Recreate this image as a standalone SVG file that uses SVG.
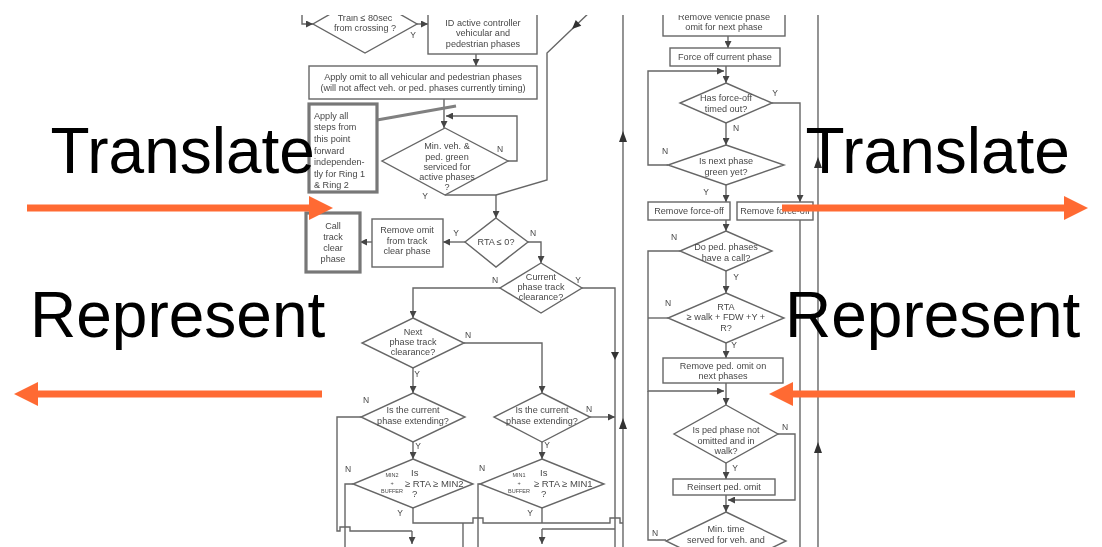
<svg xmlns="http://www.w3.org/2000/svg" width="1102" height="547" viewBox="0 0 1102 547">
  <style>
    .ln{fill:none;stroke:#666;stroke-width:1.4}
    .sh{fill:#fff;stroke:#666;stroke-width:1.4}
    .thk{fill:#fff;stroke:#777;stroke-width:3.2}
    .t{font-family:"Liberation Sans",Arial,sans-serif;font-size:9.1px;fill:#484848;text-anchor:middle}
    .tl{font-family:"Liberation Sans",Arial,sans-serif;font-size:9.1px;fill:#484848;text-anchor:start}
    .sm{font-family:"Liberation Sans",Arial,sans-serif;font-size:5.5px;fill:#484848;text-anchor:middle}
    .md{font-family:"Liberation Sans",Arial,sans-serif;font-size:9.5px;fill:#484848;text-anchor:start}
    .lab{font-family:"Liberation Sans",Arial,sans-serif;font-size:8.5px;fill:#484848;text-anchor:middle}
    .big{font-family:"Liberation Sans",Arial,sans-serif;font-size:64px;fill:#000}
    .or{fill:none;stroke:#FF6A33;stroke-width:7;marker-end:url(#oh)}
    .up{fill:#333}
    .a{marker-end:url(#ah)}
  </style>
  <defs>
    <marker id="ah" markerUnits="userSpaceOnUse" markerWidth="7" markerHeight="7" refX="7" refY="3.5" orient="auto">
      <path d="M0,0 L7,3.5 L0,7z" fill="#444"/>
    </marker>
    <marker id="oh" markerUnits="userSpaceOnUse" markerWidth="24" markerHeight="24" refX="1" refY="12" orient="auto">
      <path d="M0,0 L24,12 L0,24z" fill="#FF6A33"/>
    </marker>
    <clipPath id="chartClip"><rect x="295" y="15" width="535" height="532"/></clipPath>
    <!-- the scanned chart is slightly soft -->
    <filter id="soft" x="-2%" y="-2%" width="104%" height="104%">
      <feGaussianBlur stdDeviation="0.4"/>
    </filter>
  </defs>

  <rect width="1102" height="547" fill="#fff"/>

  <g id="flowchart" clip-path="url(#chartClip)">
   <g filter="url(#soft)">
    <!-- connectors -->
    <g id="connectors">
      <path class="ln a" d="M302,10 V24 H313"/>
      <path class="ln a" d="M417,24 H428"/>
      <path class="ln a" d="M476,54 V66"/>
      <path class="ln a" d="M444,99 V128"/>
      <path class="ln a" d="M508,161 H517 V116 H446"/>
      <path d="M377,120 L456,106" fill="none" stroke="#808080" stroke-width="3"/>
      <path class="ln" d="M445,195 H496"/>
      <path class="ln" d="M592,10 L547,53 V180 L496,195"/>
      <polygon class="up" transform="translate(572,29) rotate(136.4)" points="0,0 -9,-4 -9,4"/>
      <path class="ln a" d="M496,195 V218"/>
      <path class="ln a" d="M465,242 H443"/>
      <path class="ln a" d="M372,242 H360"/>
      <path class="ln a" d="M528,242 H541 V263"/>
      <path class="ln a" d="M500,288 H413 V318"/>
      <path class="ln" d="M582,288 H615 V547"/>
      <polygon class="up" points="615,360 611,352 619,352"/>
      <path class="ln a" d="M464,343 H542 V393"/>
      <path class="ln a" d="M413,368 V393"/>
      <path class="ln a" d="M413,442 V459"/>
      <path class="ln a" d="M542,442 V459"/>
      <path class="ln a" d="M590,417 H615"/>
      <path class="ln" d="M361,417 H337 V531 H340 V527 H350 V531 H412"/>
      <path class="ln a" d="M412,531 V544"/>
      <path class="ln" d="M353,484 H345 V547"/>
      <path class="ln" d="M480,484 H478 V547"/>
      <path class="ln" d="M413,508 V523 H473 V518 H483 V523 H610 V518 H620 V523 H623"/>
      <path class="ln" d="M463,523 V547"/>
      <path class="ln" d="M542,508 V523"/>
      <path class="ln" d="M615,529 H542"/>
      <path class="ln a" d="M542,529 V544"/>
      <path class="ln" d="M623,10 V547"/>
      <polygon class="up" points="623,131 619,142 627,142"/>
      <polygon class="up" points="623,418 619,429 627,429"/>

      <path class="ln a" d="M728,36 V48"/>
      <path class="ln a" d="M726,66 V83"/>
      <path class="ln a" d="M668,165 H648 V71 H724"/>
      <path class="ln a" d="M772,103 H800 V202"/>
      <path class="ln a" d="M726,123 V145"/>
      <path class="ln a" d="M726,185 V202"/>
      <path class="ln a" d="M726,220 V231"/>
      <path class="ln" d="M800,220 V547"/>
      <path class="ln a" d="M680,251 H648 V391 H724"/>
      <path class="ln" d="M668,318 H648"/>
      <path class="ln" d="M666,540 H648 V391"/>
      <path class="ln a" d="M726,271 V293"/>
      <path class="ln a" d="M726,343 V358"/>
      <path class="ln a" d="M726,383 V405"/>
      <path class="ln a" d="M778,434 H795 V500 H728"/>
      <path class="ln a" d="M726,463 V479"/>
      <path class="ln a" d="M726,495 V512"/>
      <path class="ln" d="M818,10 V547"/>
      <polygon class="up" points="818,157 814,168 822,168"/>
      <polygon class="up" points="818,442 814,453 822,453"/>
    </g>

    <!-- left ring steps -->
    <g id="train-check">
      <polygon class="sh" points="365,-6 417,24 365,53 313,24"/>
      <text class="t" x="365" y="21">Train ≤ 80sec</text>
      <text class="t" x="365" y="31">from crossing ?</text>
      <text class="lab" x="413" y="38">Y</text>
    </g>
    <g id="id-phases">
      <rect class="sh" x="428" y="4" width="109" height="50"/>
      <text class="t" x="483" y="26">ID active controller</text>
      <text class="t" x="483" y="36">vehicular and</text>
      <text class="t" x="483" y="47">pedestrian phases</text>
    </g>
    <g id="apply-omit">
      <rect class="sh" x="309" y="66" width="228" height="33"/>
      <text class="t" x="423" y="80">Apply omit to all vehicular and pedestrian phases</text>
      <text class="t" x="423" y="91">(will not affect veh. or ped. phases currently timing)</text>
    </g>
    <g id="ring-note">
      <rect class="thk" x="309" y="104" width="68" height="88"/>
      <text class="tl" x="314" y="119">Apply all</text>
      <text class="tl" x="314" y="130">steps  from</text>
      <text class="tl" x="314" y="142">this point</text>
      <text class="tl" x="314" y="154">forward</text>
      <text class="tl" x="314" y="165">independen-</text>
      <text class="tl" x="314" y="177">tly for Ring 1</text>
      <text class="tl" x="314" y="188">&amp; Ring 2</text>
    </g>
    <g id="min-green">
      <polygon class="sh" points="445,128 508,161 445,195 382,161"/>
      <text class="t" x="447" y="149">Min. veh. &amp;</text>
      <text class="t" x="447" y="160">ped. green</text>
      <text class="t" x="447" y="170">serviced for</text>
      <text class="t" x="447" y="180">active phases</text>
      <text class="t" x="447" y="190">?</text>
      <text class="lab" x="500" y="152">N</text>
      <text class="lab" x="425" y="199">Y</text>
    </g>
    <g id="rta-zero">
      <polygon class="sh" points="496,218 528,242 496,267 465,242"/>
      <text class="t" x="496" y="245">RTA ≤ 0?</text>
      <text class="lab" x="456" y="236">Y</text>
      <text class="lab" x="533" y="236">N</text>
    </g>
    <g id="remove-omit">
      <rect class="sh" x="372" y="219" width="71" height="48"/>
      <text class="t" x="407" y="233">Remove omit</text>
      <text class="t" x="407" y="244">from track</text>
      <text class="t" x="407" y="254">clear phase</text>
    </g>
    <g id="call-track">
      <rect class="thk" x="306" y="213" width="54" height="59"/>
      <text class="t" x="333" y="229">Call</text>
      <text class="t" x="333" y="240">track</text>
      <text class="t" x="333" y="251">clear</text>
      <text class="t" x="333" y="262">phase</text>
    </g>
    <g id="current-track">
      <polygon class="sh" points="541,263 582,288 541,313 500,288"/>
      <text class="t" x="541" y="280">Current</text>
      <text class="t" x="541" y="290">phase track</text>
      <text class="t" x="541" y="300">clearance?</text>
      <text class="lab" x="495" y="283">N</text>
      <text class="lab" x="578" y="283">Y</text>
    </g>
    <g id="next-track">
      <polygon class="sh" points="413,318 464,343 413,368 362,343"/>
      <text class="t" x="413" y="335">Next</text>
      <text class="t" x="413" y="345">phase track</text>
      <text class="t" x="413" y="355">clearance?</text>
      <text class="lab" x="468" y="338">N</text>
      <text class="lab" x="417" y="377">Y</text>
    </g>
    <g id="extending-left">
      <polygon class="sh" points="413,393 465,417 413,442 361,417"/>
      <text class="t" x="413" y="413">Is the current</text>
      <text class="t" x="413" y="424">phase extending?</text>
      <text class="lab" x="366" y="403">N</text>
      <text class="lab" x="418" y="449">Y</text>
    </g>
    <g id="extending-right">
      <polygon class="sh" points="542,393 590,417 542,442 494,417"/>
      <text class="t" x="542" y="413">Is the current</text>
      <text class="t" x="542" y="424">phase extending?</text>
      <text class="lab" x="589" y="412">N</text>
      <text class="lab" x="547" y="448">Y</text>
    </g>
    <g id="min2-check">
      <polygon class="sh" points="413,459 473,484 413,508 353,484"/>
      <text class="sm" x="392" y="477">MIN2</text>
      <text class="sm" x="392" y="485">+</text>
      <text class="sm" x="392" y="493">BUFFER</text>
      <text class="md" x="411" y="476">Is</text>
      <text class="md" x="405" y="487">≥ RTA ≥ MIN2</text>
      <text class="md" x="412" y="497">?</text>
      <text class="lab" x="348" y="472">N</text>
      <text class="lab" x="400" y="516">Y</text>
    </g>
    <g id="min1-check">
      <polygon class="sh" points="542,459 604,484 542,508 480,484"/>
      <text class="sm" x="519" y="477">MIN1</text>
      <text class="sm" x="519" y="485">+</text>
      <text class="sm" x="519" y="493">BUFFER</text>
      <text class="md" x="540" y="476">Is</text>
      <text class="md" x="534" y="487">≥ RTA ≥ MIN1</text>
      <text class="md" x="541" y="497">?</text>
      <text class="lab" x="482" y="471">N</text>
      <text class="lab" x="530" y="516">Y</text>
    </g>

    <!-- right column steps -->
    <g id="remove-veh-omit">
      <rect class="sh" x="663" y="4" width="122" height="32"/>
      <text class="t" x="724" y="20">Remove vehicle phase</text>
      <text class="t" x="724" y="30">omit for next phase</text>
    </g>
    <g id="force-off">
      <rect class="sh" x="670" y="48" width="110" height="18"/>
      <text class="t" x="725" y="60">Force off current phase</text>
    </g>
    <g id="force-timed-out">
      <polygon class="sh" points="726,83 772,103 726,123 680,103"/>
      <text class="t" x="726" y="101">Has force-off</text>
      <text class="t" x="726" y="112">timed out?</text>
      <text class="lab" x="775" y="96">Y</text>
      <text class="lab" x="736" y="131">N</text>
    </g>
    <g id="next-green">
      <polygon class="sh" points="726,145 784,165 726,185 668,165"/>
      <text class="t" x="726" y="164">Is next phase</text>
      <text class="t" x="726" y="175">green yet?</text>
      <text class="lab" x="665" y="154">N</text>
      <text class="lab" x="706" y="195">Y</text>
    </g>
    <g id="remove-force-off-a">
      <rect class="sh" x="648" y="202" width="82" height="18"/>
      <text class="t" x="689" y="214">Remove force-off</text>
    </g>
    <g id="remove-force-off-b">
      <rect class="sh" x="737" y="202" width="76" height="18"/>
      <text class="t" x="775" y="214">Remove force-off</text>
    </g>
    <g id="ped-call">
      <polygon class="sh" points="726,231 772,251 726,271 680,251"/>
      <text class="t" x="726" y="250">Do ped. phases</text>
      <text class="t" x="726" y="261">have a call?</text>
      <text class="lab" x="674" y="240">N</text>
      <text class="lab" x="736" y="280">Y</text>
    </g>
    <g id="rta-walk">
      <polygon class="sh" points="726,293 784,318 726,343 668,318"/>
      <text class="t" x="726" y="310">RTA</text>
      <text class="t" x="726" y="320">≥ walk + FDW +Y +</text>
      <text class="t" x="726" y="331">R?</text>
      <text class="lab" x="668" y="306">N</text>
      <text class="lab" x="734" y="348">Y</text>
    </g>
    <g id="remove-ped-omit">
      <rect class="sh" x="663" y="358" width="120" height="25"/>
      <text class="t" x="723" y="369">Remove ped. omit on</text>
      <text class="t" x="723" y="379">next phases</text>
    </g>
    <g id="ped-walk">
      <polygon class="sh" points="726,405 778,434 726,463 674,434"/>
      <text class="t" x="726" y="433">Is ped phase not</text>
      <text class="t" x="726" y="444">omitted and in</text>
      <text class="t" x="726" y="454">walk?</text>
      <text class="lab" x="785" y="430">N</text>
      <text class="lab" x="735" y="471">Y</text>
    </g>
    <g id="reinsert">
      <rect class="sh" x="673" y="479" width="102" height="16"/>
      <text class="t" x="724" y="490">Reinsert ped. omit</text>
    </g>
    <g id="min-time">
      <polygon class="sh" points="726,512 786,541 726,570 666,541"/>
      <text class="t" x="726" y="532">Min. time</text>
      <text class="t" x="726" y="543">served for veh. and</text>
      <text class="lab" x="655" y="536">N</text>
    </g>
   </g>
  </g>

  <!-- overlay captions and arrows -->
  <g id="caption-left">
    <text class="big" x="50.5" y="173">Translate</text>
    <path class="or" d="M27,208 H310"/>
    <text class="big" x="30" y="337">Represent</text>
    <path class="or" d="M322,394 H37"/>
  </g>
  <g id="caption-right">
    <text class="big" x="805.5" y="173">Translate</text>
    <path class="or" d="M782,208 H1065"/>
    <text class="big" x="785" y="337">Represent</text>
    <path class="or" d="M1075,394 H792"/>
  </g>
</svg>
